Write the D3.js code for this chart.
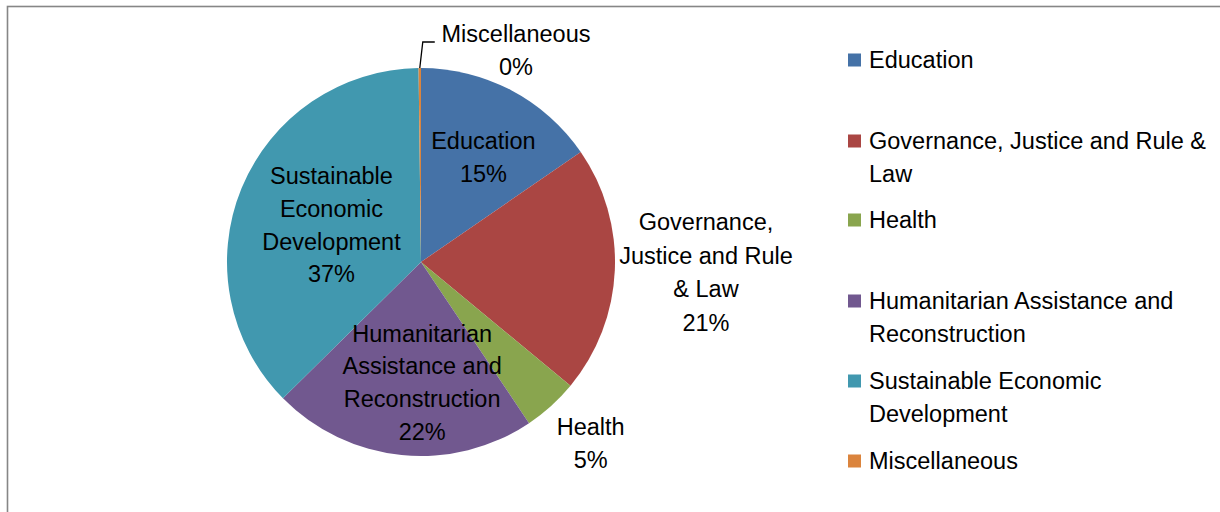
<!DOCTYPE html>
<html><head><meta charset="utf-8">
<script src="https://cdn.jsdelivr.net/npm/d3@7"></script>
<style>body{margin:0;background:#fff}svg{display:block}text{font-family:"Liberation Sans",Arial,sans-serif;fill:#000}</style>
</head><body>
<svg id="c" width="1220" height="512"></svg>
<script>
const categories = ["Education","Governance, Justice and Rule & Law","Health","Humanitarian Assistance and Reconstruction","Sustainable Economic Development","Miscellaneous"];
const values = [15.4, 20.6, 4.6, 22.0, 37.2, 0.2];
const colors = ["#4572A7","#AA4643","#89A54E","#71588F","#4198AF","#DB843D"];
const labelLines = [["Education"],["Governance,","Justice and Rule","& Law"],["Health"],["Humanitarian","Assistance and","Reconstruction"],["Sustainable","Economic","Development"],["Miscellaneous"]];
const legendLines = [["Education"],["Governance, Justice and Rule &","Law"],["Health"],["Humanitarian Assistance and","Reconstruction"],["Sustainable Economic","Development"],["Miscellaneous"]];

const svg = d3.select("#c");
svg.append("rect").attr("x",7.5).attr("y",6.5).attr("width",1400).attr("height",800)
  .attr("fill","none").attr("stroke","#868686").attr("stroke-width",1.6);

const cx = 421, cy = 262, r = 194;
const FS = 23.5, LH = 32.7;
const g = svg.append("g").attr("transform",`translate(${cx},${cy})`);
const pie = d3.pie().sort(null).value(d=>d)(values);
const arc = d3.arc().innerRadius(0).outerRadius(r);
g.selectAll("path").data(pie).enter().append("path")
  .attr("d",arc).attr("fill",(d,i)=>colors[i]);

// label layout: [angle offset (deg), radius factor, line height]
const layout = [[3,0.63,LH],[-0.5,1.47,33.7],[-1,1.28,LH],[-6.3,0.62,LH],[0.3,0.5,LH],[null,null,LH]];
const total = d3.sum(values);
pie.forEach((d,i)=>{
  const lines = labelLines[i].concat([Math.round(values[i]/total*100)+"%"]);
  let x, y;
  const mid = (d.startAngle+d.endAngle)/2;
  if (layout[i][0] === null) {
    const p0 = [Math.sin(mid)*r, -Math.cos(mid)*r];
    const p1 = [p0[0]+3, -r+(42-68)];
    const p2 = [p1[0]+12, p1[1]];
    g.append("path").attr("d",d3.line()([p0,p1,p2])).attr("fill","none").attr("stroke","#000").attr("stroke-width",1.3);
    x = 516-cx; y = 50-cy;
  } else {
    const a = mid + layout[i][0]*Math.PI/180;
    const rr = layout[i][1]*r;
    x = Math.sin(a)*rr; y = -Math.cos(a)*rr;
  }
  const lh = layout[i][2];
  const t = g.append("text").attr("text-anchor","middle").attr("font-size",FS);
  const n = lines.length;
  lines.forEach((l,k)=>{
    t.append("tspan").attr("x",x).attr("y",y+(k-(n-1)/2)*lh).attr("dy","0.36em").text(l);
  });
});

// legend
const legY = [60,141,220,301,381,461];
const lg = svg.append("g");
categories.forEach((c,i)=>{
  lg.append("rect").attr("x",848).attr("y",legY[i]-6.5).attr("width",13).attr("height",13).attr("fill",colors[i]);
  const t = lg.append("text").attr("font-size",FS);
  legendLines[i].forEach((l,k)=>{
    t.append("tspan").attr("x",869).attr("y",legY[i]+k*LH).attr("dy","0.36em").text(l);
  });
});
</script>
</body></html>
